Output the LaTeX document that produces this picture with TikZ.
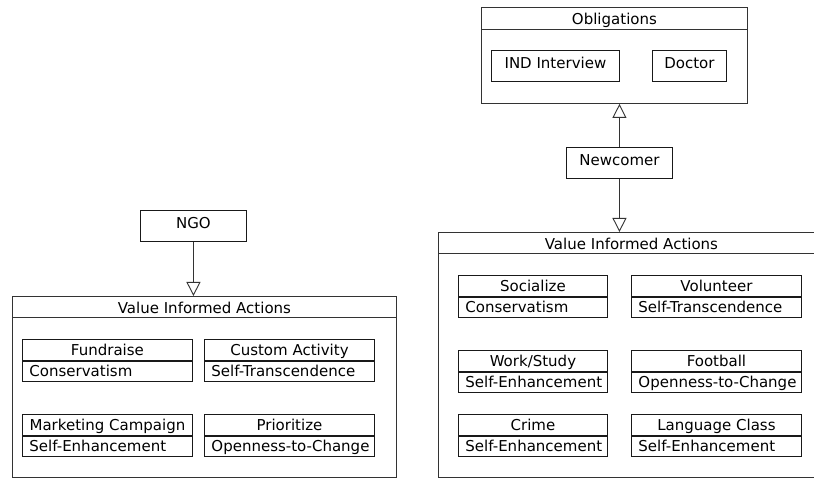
\documentclass[tikz,border=0pt]{standalone}
\usepackage{fontspec}
\setmainfont{DejaVu Sans}
\usetikzlibrary{arrows.meta}
\begin{document}
\begin{tikzpicture}[x=1pt,y=-1pt,
  font=\fontsize{15}{18}\selectfont,
  line width=0.9pt,
  container/.style={draw=black!80, anchor=north west, inner sep=0pt},
  header/.style={draw=black!80, anchor=north west, inner sep=0pt,
    text height=13pt, text depth=0pt},
  plainbox/.style={draw=black!90, anchor=north west, inner sep=0pt,
    minimum height=31pt, text height=12pt, text depth=6pt},
  etitle/.style={draw=black!90, anchor=north west, inner sep=0pt,
    minimum width=#1, minimum height=21pt, text height=13pt, text depth=1pt},
  evalue/.style={draw=black!90, anchor=north west, inner sep=0pt,
    minimum height=20pt, text width=#1, align=left,
    text height=12pt, text depth=2pt},
  arr/.style={draw=black!80, -{Triangle[open, length=14pt, width=14pt]}}]
\useasboundingbox (0,0) rectangle (814,478);
\clip (0,0) rectangle (814,478);
\fill[white] (0,0) rectangle (814,478);

% --- NGO side -------------------------------------------------------
\node[plainbox, minimum width=106pt] (ngo) at (140,210) {NGO};

\node[container, minimum width=384pt, minimum height=181pt] (leftbox) at (12,296) {};
\node[header, minimum width=384pt, minimum height=21pt] (lefthead) at (12,296) {Value Informed Actions};

\node[etitle=170pt] (fundT) at (22,339) {Fundraise};
\node[evalue=170pt] (fundV) at (fundT.south west) {\hspace*{7pt}Conservatism};
\node[etitle=170pt] (custT) at (204,339) {Custom Activity};
\node[evalue=170pt] (custV) at (custT.south west) {\hspace*{7pt}Self-Transcendence};
\node[etitle=170pt] (markT) at (22,414) {Marketing Campaign};
\node[evalue=170pt] (markV) at (markT.south west) {\hspace*{7pt}Self-Enhancement};
\node[etitle=170pt] (prioT) at (204,414) {Prioritize};
\node[evalue=170pt] (prioV) at (prioT.south west) {\hspace*{7pt}Openness-to-Change};

\draw[arr] (ngo.south) -- (ngo.south |- leftbox.north);

% --- Newcomer side --------------------------------------------------
\node[container, minimum width=266pt, minimum height=96pt] (obl) at (481,7) {};
\node[header, minimum width=266pt, minimum height=22pt] (oblhead) at (481,7) {Obligations};
\node[plainbox, minimum width=128pt] (ind) at (491,50) {IND Interview};
\node[plainbox, minimum width=74pt] (doctor) at (652,50) {Doctor};

\node[plainbox, minimum width=106pt] (newc) at (566,147) {Newcomer};

\node[container, minimum width=386pt, minimum height=245pt] (rightbox) at (438,232) {};
\node[header, minimum width=386pt, minimum height=21pt] (righthead) at (438,232) {Value Informed Actions};

\node[etitle=149pt] (socT) at (458,275) {Socialize};
\node[evalue=149pt] (socV) at (socT.south west) {\hspace*{7pt}Conservatism};
\node[etitle=170pt] (volT) at (631,275) {Volunteer};
\node[evalue=170pt] (volV) at (volT.south west) {\hspace*{7pt}Self-Transcendence};
\node[etitle=149pt] (workT) at (458,350) {Work/Study};
\node[evalue=149pt] (workV) at (workT.south west) {\hspace*{7pt}Self-Enhancement};
\node[etitle=170pt] (footT) at (631,350) {Football};
\node[evalue=170pt] (footV) at (footT.south west) {\hspace*{7pt}Openness-to-Change};
\node[etitle=149pt] (crimeT) at (458,414) {Crime};
\node[evalue=149pt] (crimeV) at (crimeT.south west) {\hspace*{7pt}Self-Enhancement};
\node[etitle=170pt] (langT) at (631,414) {Language Class};
\node[evalue=170pt] (langV) at (langT.south west) {\hspace*{7pt}Self-Enhancement};

\draw[arr] (newc.north) -- (newc.north |- obl.south);
\draw[arr] (newc.south) -- (newc.south |- rightbox.north);
\end{tikzpicture}
\end{document}
